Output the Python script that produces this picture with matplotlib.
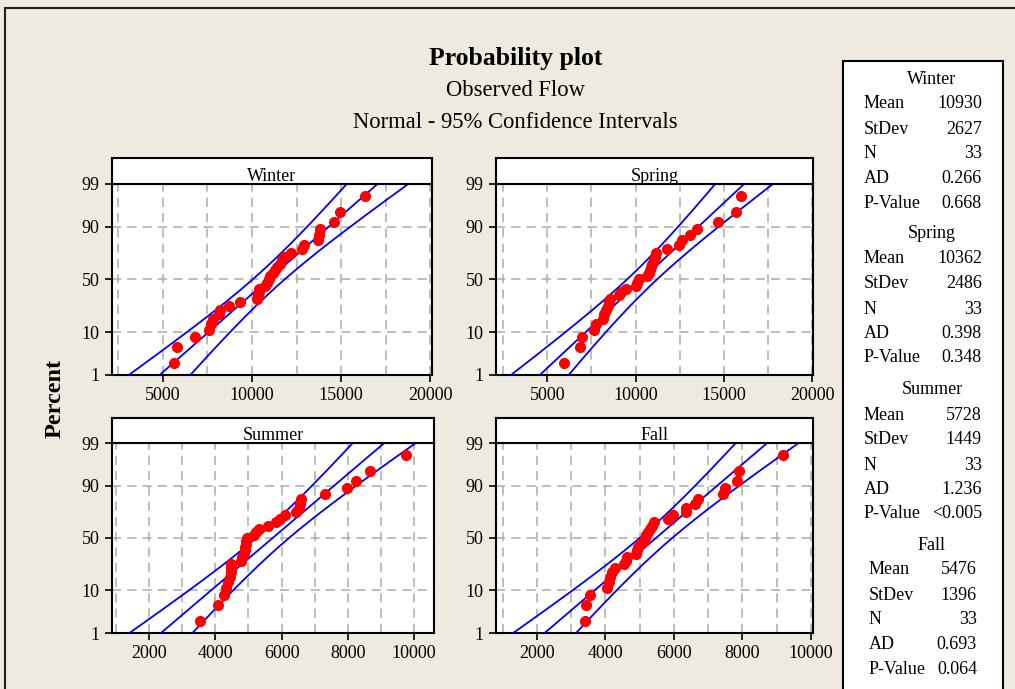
import matplotlib
matplotlib.use('Agg')
import matplotlib.pyplot as plt
import numpy as np
from statistics import NormalDist
from matplotlib.ticker import FixedLocator, MultipleLocator
from matplotlib.lines import Line2D
from matplotlib.patches import Rectangle

plt.rcParams['font.family'] = ['Liberation Serif', 'DejaVu Serif']

seasons = ['Winter', 'Spring', 'Summer', 'Fall']
winter = [5604, 5811, 6830, 7600, 7680, 7800, 8150, 8220, 8740, 9340, 10280,
          10340, 10380, 10400, 10720, 10850, 10940, 11040, 11190, 11320, 11420,
          11550, 11700, 11790, 12210, 12830, 12930, 13720, 13775, 13830, 14620,
          14930, 16320]
spring = [5950, 6856, 6950, 7650, 7746, 8144, 8240, 8333, 8430, 8520, 8560,
          9090, 9167, 9450, 10040, 10075, 10170, 10645, 10740, 10800, 10870,
          10930, 11020, 11120, 11170, 11780, 12440, 12630, 13070, 13480, 14680,
          15680, 16000]
summer = [3548, 4080, 4250, 4330, 4380, 4430, 4460, 4460, 4460, 4780, 4810,
          4850, 4880, 4900, 4915, 4935, 4955, 5155, 5235, 5315, 5590, 5840,
          5940, 6090, 6440, 6520, 6560, 6590, 7310, 7980, 8250, 8680, 9740]
fall = [3393, 3441, 3558, 4055, 4104, 4143, 4192, 4270, 4542, 4591, 4640,
        4903, 4922, 4951, 5000, 5127, 5146, 5195, 5243, 5292, 5370, 5409,
        5828, 5974, 6344, 6364, 6607, 6705, 7435, 7484, 7844, 7903, 9188]

means = [10930, 10362, 5728, 5476]
stdevs = [2627, 2486, 1449, 1396]
counts = [33, 33, 33, 33]
ad_vals = ['0.266', '0.398', '1.236', '0.693']
p_vals = ['0.668', '0.348', '<0.005', '0.064']

pct_ticks = [1, 10, 50, 90, 99]
ticks_high = [5000, 10000, 15000, 20000]
ticks_low = [2000, 4000, 6000, 8000, 10000]

W, H = 1015, 689
BG = '#EEEAE0'
nd = NormalDist()

fig = plt.figure(figsize=(W / 100, H / 100), dpi=100, facecolor=BG)

# outer frame (top and left edge visible)
fig.add_artist(Line2D([5 / W, 5 / W], [0, 1 - 8 / H], transform=fig.transFigure, color='#202020', lw=1.5))
fig.add_artist(Line2D([5 / W, 1], [1 - 8 / H, 1 - 8 / H], transform=fig.transFigure, color='#202020', lw=1.5))

fig.text(516 / W, 1 - 59 / H, 'Probability plot', ha='center', va='center', fontsize=18.5, fontweight='bold')
fig.text(516 / W, 1 - 90 / H, 'Observed Flow', ha='center', va='center', fontsize=16.3)
fig.text(515 / W, 1 - 122 / H, 'Normal - 95% Confidence Intervals', ha='center', va='center', fontsize=16.3)
fig.text(55 / W, 1 - 398 / H, 'Percent', ha='center', va='center', rotation=90, fontsize=17.5, fontweight='bold')

# panel boxes in pixels: left, right, top, bottom, header top
boxes = [(112, 432, 184, 375, 158), (496, 813, 184, 375, 158),
         (112, 434, 443, 633, 418), (496, 813, 443, 633, 418)]
xlims = [(2150, 20100), (2100, 20050), (880, 10600), (810, 10060)]
grid_steps = [2500, 2500, 1000, 1000]
xticks = [ticks_high, ticks_high, ticks_low, ticks_low]
data = [winter, spring, summer, fall]

zlo, zhi = nd.inv_cdf(0.01), nd.inv_cdf(0.99)

for k in range(4):
    l, r, t, b, ht = boxes[k]
    ax = fig.add_axes([l / W, 1 - b / H, (r - l) / W, (b - t) / H])
    ax.set_facecolor('white')
    vals = np.array(data[k])
    n = len(vals)
    zs = [nd.inv_cdf((i - 0.3) / (n + 0.4)) for i in range(1, n + 1)]

    mu, sd = means[k], stdevs[k]
    zz = np.linspace(zlo, zhi, 200)
    fit = mu + sd * zz
    se = sd * np.sqrt((1 + zz ** 2 / 2) / counts[k])
    for line in (fit - 1.96 * se, fit, fit + 1.96 * se):
        ax.plot(line, zz, color='#0000FF', lw=1.3, zorder=3)
    ax.plot(vals, zs, 'o', color='#FF0000', ms=7, mec='#FF0000', zorder=4)

    ax.set_xlim(*xlims[k])
    ax.set_ylim(zlo, zhi)
    ax.xaxis.set_major_locator(FixedLocator(xticks[k]))
    ax.xaxis.set_minor_locator(MultipleLocator(grid_steps[k]))
    ax.set_xticklabels([str(v) for v in xticks[k]])
    ax.yaxis.set_major_locator(FixedLocator([nd.inv_cdf(p / 100) for p in pct_ticks]))
    ax.set_yticklabels([str(p) for p in pct_ticks])
    ax.tick_params(axis='both', which='major', direction='out', length=5, width=1.2,
                   labelsize=13, colors='black', pad=4)
    ax.tick_params(axis='x', which='minor', length=0)
    ax.grid(True, axis='x', which='both', color='#ABABAB', ls=(0, (6, 4)), lw=1.1)
    ax.grid(True, axis='y', which='major', color='#ABABAB', ls=(0, (6, 4)), lw=1.1)
    ax.set_axisbelow(True)
    for s in ax.spines.values():
        s.set_linewidth(1.5)
        s.set_color('black')

    hx = fig.add_axes([l / W, 1 - t / H, (r - l) / W, (t - ht) / H])
    hx.set_facecolor('white')
    hx.set_xticks([])
    hx.set_yticks([])
    for s in hx.spines.values():
        s.set_linewidth(1.5)
    hx.text(0.5, 0.3, seasons[k], ha='center', va='center', fontsize=13, transform=hx.transAxes)

# statistics box
fig.add_artist(Rectangle((843 / W, -0.02), 160 / W, 1 - 61 / H + 0.02, transform=fig.transFigure,
                         facecolor='white', edgecolor='black', lw=1.5))
head_y = [79, 234, 390, 545]
offs = [25, 50, 75, 99.5, 124]
names = ['Mean', 'StDev', 'N', 'AD', 'P-Value']
for k in range(4):
    ind = 5 if k == 3 else 0
    fig.text(932 / W, 1 - head_y[k] / H, seasons[k], ha='center', va='center', fontsize=13)
    row = [str(means[k]), str(stdevs[k]), str(counts[k]), ad_vals[k], p_vals[k]]
    for j in range(5):
        y = 1 - (head_y[k] + offs[j]) / H
        fig.text((864 + ind) / W, y, names[j], ha='left', va='center', fontsize=13)
        fig.text((982 - ind) / W, y, row[j], ha='right', va='center', fontsize=13)

fig.savefig('out.png', dpi=100, facecolor=BG)
